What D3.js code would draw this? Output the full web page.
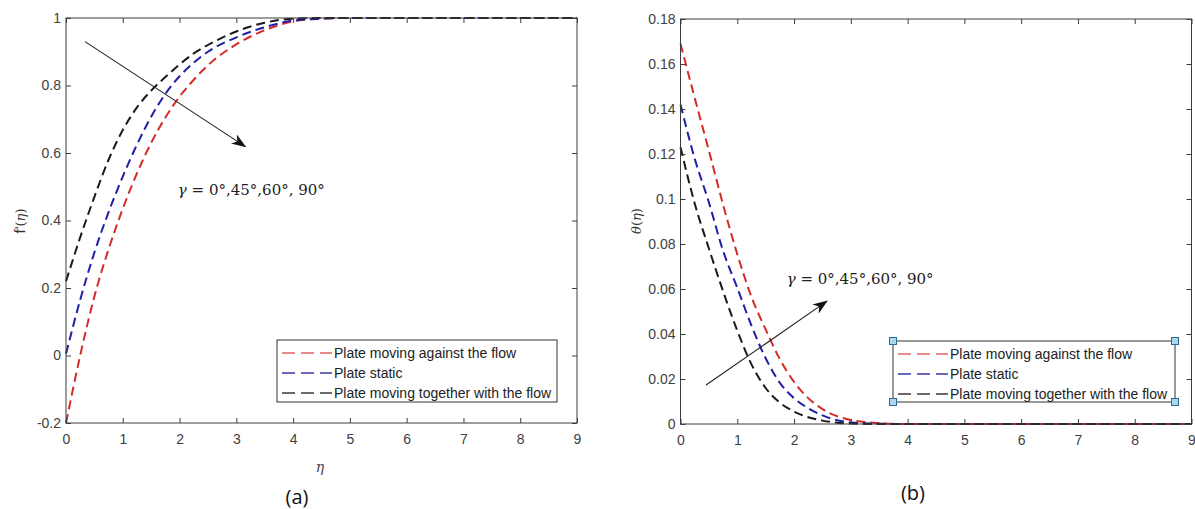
<!DOCTYPE html>
<html>
<head>
<meta charset="utf-8">
<script src="https://cdn.jsdelivr.net/npm/d3@7/dist/d3.min.js"></script>
<style>
  html, body { margin: 0; padding: 0; background: #fff; }
  svg { display: block; }
</style>
</head>
<body>
<svg id="chart" width="1195" height="509"></svg>
<script>
// ---------------- DATA ----------------
const eta = [0, 0.25, 0.5, 0.75, 1, 1.25, 1.5, 1.75, 2, 2.25, 2.5, 3, 3.5, 4, 4.5, 5, 6, 7, 8, 9];

// Panel (a): f'(eta)
const fpAgainst  = [-0.2, 0.0, 0.175, 0.315, 0.435, 0.54, 0.63, 0.705, 0.767, 0.817, 0.86, 0.922, 0.964, 0.99, 0.998, 1, 1, 1, 1, 1];
const fpStatic   = [0.005, 0.165, 0.305, 0.425, 0.53, 0.625, 0.7075, 0.775, 0.8275, 0.8675, 0.9, 0.9425, 0.9725, 0.9925, 0.998, 1, 1, 1, 1, 1];
const fpTogether = [0.22, 0.35, 0.47, 0.58, 0.668, 0.735, 0.785, 0.825, 0.862, 0.895, 0.92, 0.96, 0.986, 0.998, 1, 1, 1, 1, 1, 1];

// Panel (b): theta(eta)
const thAgainst  = [0.169, 0.145, 0.1215, 0.0975, 0.0755, 0.0565, 0.042, 0.0288, 0.0187, 0.0115, 0.0066, 0.0018, 0.0004, 0.0, 0, 0, 0, 0, 0, 0];
const thStatic   = [0.142, 0.118, 0.0985, 0.077, 0.0605, 0.0437, 0.0292, 0.0183, 0.0115, 0.007, 0.0038, 0.0007, 0.0001, 0, 0, 0, 0, 0, 0, 0];
const thTogether = [0.123, 0.098, 0.078, 0.059, 0.0415, 0.0265, 0.016, 0.0095, 0.0055, 0.003, 0.0015, 0.0002, 0, 0, 0, 0, 0, 0, 0, 0];

const seriesNames = ["Plate moving against the flow", "Plate static", "Plate moving together with the flow"];
const xTicks = [0, 1, 2, 3, 4, 5, 6, 7, 8, 9];
const yTicksA = [-0.2, 0, 0.2, 0.4, 0.6, 0.8, 1];
const yTickLabelsA = ["-0.2", "0", "0.2", "0.4", "0.6", "0.8", "1"];
const yTicksB = [0, 0.02, 0.04, 0.06, 0.08, 0.1, 0.12, 0.14, 0.16, 0.18];
const yTickLabelsB = ["0", "0.02", "0.04", "0.06", "0.08", "0.1", "0.12", "0.14", "0.16", "0.18"];
const annotation = "γ = 0°,45°,60°, 90°";

// ---------------- STYLE ----------------
const curveColors = ["#d42a2a", "#1f1fa8", "#1a1a1a"];
const legendColors = ["#e06464", "#3a3aa8", "#3a3a3a"];
const axisColor = "#3c3c3c";
const tickTextColor = "#404040";
const tickFont = "Liberation Sans, Arial, sans-serif";

const svg = d3.select("#chart");
const defs = svg.append("defs");
defs.append("marker")
  .attr("id", "arrowhead")
  .attr("viewBox", "0 0 15 11")
  .attr("refX", 14).attr("refY", 5.5)
  .attr("markerWidth", 15).attr("markerHeight", 11)
  .attr("markerUnits", "userSpaceOnUse")
  .attr("orient", "auto")
  .append("path")
  .attr("d", "M0,0 L15,5.5 L0,11 L4.5,5.5 Z")
  .attr("fill", "#111");

function panel(cfg) {
  const x = d3.scaleLinear().domain([0, 9]).range([cfg.x0, cfg.x1]);
  const y = d3.scaleLinear().domain(cfg.yDomain).range([cfg.y1, cfg.y0]);
  const g = svg.append("g");

  // curves
  const line = d3.line().x((d, i) => x(eta[i])).y(d => y(d)).curve(d3.curveMonotoneX);
  cfg.series.forEach((s, k) => {
    g.append("path")
      .attr("d", line(s))
      .attr("fill", "none")
      .attr("stroke", curveColors[k])
      .attr("stroke-width", 2)
      .attr("stroke-dasharray", "9,5");
  });

  // axes (MATLAB box with inward ticks)
  const styleAxis = sel => {
    sel.select(".domain").remove();
    sel.selectAll(".tick line").attr("stroke", axisColor);
    sel.selectAll(".tick text").attr("fill", tickTextColor)
      .style("font-family", tickFont).style("font-size", "14px");
  };
  g.append("g").attr("transform", `translate(0,${cfg.y1})`)
    .call(d3.axisBottom(x).tickValues(xTicks).tickFormat(d3.format("d")).tickSizeInner(-5).tickSizeOuter(0).tickPadding(11))
    .call(styleAxis);
  g.append("g").attr("transform", `translate(0,${cfg.y0})`)
    .call(d3.axisTop(x).tickValues(xTicks).tickFormat("").tickSizeInner(-5).tickSizeOuter(0))
    .call(styleAxis);
  g.append("g").attr("transform", `translate(${cfg.x0},0)`)
    .call(d3.axisLeft(y).tickValues(cfg.yTicks).tickFormat((d, i) => cfg.yLabels[i]).tickSizeInner(-5).tickSizeOuter(0).tickPadding(5))
    .call(styleAxis);
  g.append("g").attr("transform", `translate(${cfg.x1},0)`)
    .call(d3.axisRight(y).tickValues(cfg.yTicks).tickFormat("").tickSizeInner(-5).tickSizeOuter(0))
    .call(styleAxis);
  g.append("rect")
    .attr("x", cfg.x0).attr("y", cfg.y0)
    .attr("width", cfg.x1 - cfg.x0).attr("height", cfg.y1 - cfg.y0)
    .attr("fill", "none").attr("stroke", axisColor).attr("stroke-width", 1);

  // annotation arrow + text
  g.append("line")
    .attr("x1", x(cfg.arrow[0][0])).attr("y1", y(cfg.arrow[0][1]))
    .attr("x2", x(cfg.arrow[1][0])).attr("y2", y(cfg.arrow[1][1]))
    .attr("stroke", "#222").attr("stroke-width", 1.1)
    .attr("marker-end", "url(#arrowhead)");
  const t = g.append("text")
    .attr("x", x(cfg.textPos[0])).attr("y", y(cfg.textPos[1]))
    .style("font-family", "DejaVu Serif, serif").style("font-size", "15px")
    .attr("fill", "#222");
  t.append("tspan").style("font-style", "italic").text(annotation.slice(0, 1));
  t.append("tspan").text(annotation.slice(1));

  // legend
  const L = cfg.legend;
  const lg = g.append("g");
  lg.append("rect").attr("x", L.x).attr("y", L.y).attr("width", L.w).attr("height", L.h)
    .attr("fill", "#fff").attr("stroke", "#333").attr("stroke-width", 1);
  seriesNames.forEach((name, k) => {
    const cy = L.y + 13 + k * 20;
    lg.append("line")
      .attr("x1", L.x + 5).attr("x2", L.x + 55).attr("y1", cy).attr("y2", cy)
      .attr("stroke", legendColors[k]).attr("stroke-width", 1.4)
      .attr("stroke-dasharray", "13,6");
    lg.append("text")
      .attr("x", L.x + 57).attr("y", cy + 5)
      .style("font-family", tickFont).style("font-size", "14px")
      .attr("fill", "#222").text(name);
  });
  if (L.handles) {
    [[L.x, L.y], [L.x + L.w, L.y], [L.x, L.y + L.h], [L.x + L.w, L.y + L.h]].forEach(([hx, hy]) => {
      lg.append("rect").attr("x", hx - 3.5).attr("y", hy - 3.5).attr("width", 7).attr("height", 7)
        .attr("fill", "#a9d8ee").attr("stroke", "#2d6a8e").attr("stroke-width", 1);
    });
  }
  return { x, y, g };
}

// ---------------- PANEL (a) ----------------
panel({
  x0: 66, x1: 577, y0: 18, y1: 423,
  yDomain: [-0.2, 1], yTicks: yTicksA, yLabels: yTickLabelsA,
  series: [fpAgainst, fpStatic, fpTogether],
  arrow: [[0.335, 0.93], [3.16, 0.619]],
  textPos: [1.97, 0.477],
  legend: { x: 277, y: 340, w: 280, h: 62, handles: false }
});
// ---------------- PANEL (b) ----------------
panel({
  x0: 680.5, x1: 1191.5, y0: 19, y1: 424,
  yDomain: [0, 0.18], yTicks: yTicksB, yLabels: yTickLabelsB,
  series: [thAgainst, thStatic, thTogether],
  arrow: [[0.45, 0.0173], [2.58, 0.0546]],
  textPos: [1.87, 0.0622],
  legend: { x: 893, y: 341, w: 282, h: 61, handles: true }
});

// axis labels
const serif = "DejaVu Serif, serif";
svg.append("text").attr("x", 320).attr("y", 472).attr("text-anchor", "middle")
  .style("font-family", serif).style("font-style", "italic").style("font-size", "14px")
  .attr("fill", "#444").text("η");

const yl = svg.append("text").attr("transform", "translate(25,221) rotate(-90)").attr("text-anchor", "middle")
  .style("font-size", "15px").attr("fill", "#333");
yl.append("tspan").style("font-family", tickFont).text("f'");
yl.append("tspan").style("font-family", serif).style("font-size", "13px").text("(");
yl.append("tspan").style("font-family", serif).style("font-style", "italic").style("font-size", "13px").text("η");
yl.append("tspan").style("font-family", serif).style("font-size", "13px").text(")");

const yr = svg.append("text").attr("transform", "translate(641,221) rotate(-90)").attr("text-anchor", "middle")
  .style("font-family", serif).style("font-size", "13px").attr("fill", "#333");
yr.append("tspan").style("font-style", "italic").text("θ");
yr.append("tspan").text("(");
yr.append("tspan").style("font-style", "italic").text("η");
yr.append("tspan").text(")");

// panel captions
svg.append("text").attr("x", 297).attr("y", 504).attr("text-anchor", "middle")
  .style("font-family", "Open Sans, Liberation Sans, sans-serif").style("font-size", "20px")
  .attr("fill", "#111").text("(a)");
svg.append("text").attr("x", 913).attr("y", 500).attr("text-anchor", "middle")
  .style("font-family", "Open Sans, Liberation Sans, sans-serif").style("font-size", "20px")
  .attr("fill", "#111").text("(b)");
</script>
</body>
</html>
